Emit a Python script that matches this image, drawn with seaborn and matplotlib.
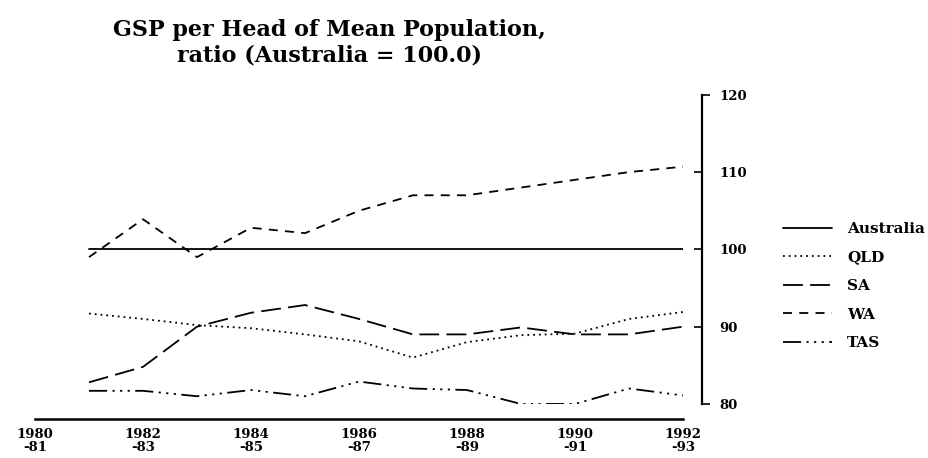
import matplotlib
matplotlib.use("Agg")
import matplotlib.pyplot as plt
import seaborn as sns
import pandas as pd
from matplotlib.ticker import FixedLocator, FixedFormatter

years = [1981, 1982, 1983, 1984, 1985, 1986, 1987, 1988, 1989, 1990, 1991, 1992]
australia = [100, 100, 100, 100, 100, 100, 100, 100, 100, 100, 100, 100]
qld = [91.7, 91.0, 90.2, 89.8, 89.0, 88.1, 86.0, 88.0, 88.9, 89.1, 91.0, 91.9]
sa = [82.8, 84.8, 90.0, 91.8, 92.8, 91.0, 89.0, 89.0, 89.9, 89.0, 89.0, 90.0]
wa = [99.0, 103.9, 99.0, 102.8, 102.1, 105.0, 107.0, 107.0, 108.0, 109.0, 110.0, 110.7]
tas = [81.7, 81.7, 81.0, 81.8, 81.0, 82.9, 82.0, 81.8, 80.0, 80.0, 82.0, 81.1]

series_names = ["Australia", "QLD", "SA", "WA", "TAS"]
x_ticks = [1980, 1982, 1984, 1986, 1988, 1990, 1992]
x_tick_labels = ["1980\n-81", "1982\n-83", "1984\n-85", "1986\n-87", "1988\n-89", "1990\n-91", "1992\n-93"]
y_ticks_major = [90, 100, 110]
y_ticks_minor = [80, 120]

title = "GSP per Head of Mean Population,\nratio (Australia = 100.0)"

df = pd.DataFrame({
    "year": years * 5,
    "value": australia + qld + sa + wa + tas,
    "region": sum([[n] * len(years) for n in series_names], []),
})

sns.set_style("white")
plt.rcParams["font.family"] = ["DejaVu Serif"]
plt.rcParams["text.color"] = "black"
plt.rcParams["xtick.color"] = "black"
plt.rcParams["ytick.color"] = "black"

fig = plt.figure(figsize=(9.29, 4.58), dpi=100)
ax = fig.add_axes([0.0377, 0.118, 0.6975, 0.675])

dashes = {
    "Australia": "",
    "QLD": (1, 2.2),
    "SA": (11, 4),
    "WA": (5, 4),
    "TAS": (10, 3, 1.2, 3, 1.2, 3, 1.2, 3),
}
sns.lineplot(data=df, x="year", y="value", style="region", dashes=dashes,
             color="black", linewidth=1.3, ax=ax, legend=True)

ax.set_xlim(1980, 1992)
ax.set_ylim(80, 120)
ax.set_xlabel("")
ax.set_ylabel("")

for s in ["top", "left"]:
    ax.spines[s].set_visible(False)
ax.spines["bottom"].set_position(("outward", 11))
ax.spines["right"].set_position(("outward", 14))
ax.spines["bottom"].set_linewidth(1.8)
ax.spines["right"].set_linewidth(1.6)
for s in ["bottom", "right"]:
    ax.spines[s].set_color("black")

ax.set_xticks(x_ticks)
ax.set_xticklabels(x_tick_labels, fontweight="bold", fontsize=9.5, linespacing=1.0)
ax.tick_params(axis="x", direction="in", length=6, width=1.6, colors="black", pad=6)

ax.yaxis.tick_right()
ax.yaxis.set_major_locator(FixedLocator(y_ticks_major))
ax.yaxis.set_major_formatter(FixedFormatter([str(v) for v in y_ticks_major]))
ax.yaxis.set_minor_locator(FixedLocator(y_ticks_minor))
ax.yaxis.set_minor_formatter(FixedFormatter([str(v) for v in y_ticks_minor]))
ax.tick_params(axis="y", which="major", direction="in", length=6, width=1.2,
               labelsize=9.5, pad=12, left=False, right=True, labelleft=False, labelright=True)
ax.tick_params(axis="y", which="minor", direction="out", length=6, width=1.2,
               labelsize=9.5, pad=6, left=False, right=True, labelleft=False, labelright=True)
for lab in ax.get_yticklabels(which="both"):
    lab.set_fontweight("bold")

handles, labels = ax.get_legend_handles_labels()
hmap = dict(zip(labels, handles))
leg = ax.legend([hmap[n] for n in series_names], series_names,
                loc="upper left", bbox_to_anchor=(0.828, 0.545), bbox_transform=fig.transFigure,
                frameon=False, handlelength=3.2, handletextpad=1.0, labelspacing=0.95,
                prop={"weight": "bold", "size": 11})

fig.text(0.355, 0.958, title, ha="center", va="top", fontsize=16, fontweight="bold",
         linespacing=1.2)

fig.savefig("out.png", dpi=100)
